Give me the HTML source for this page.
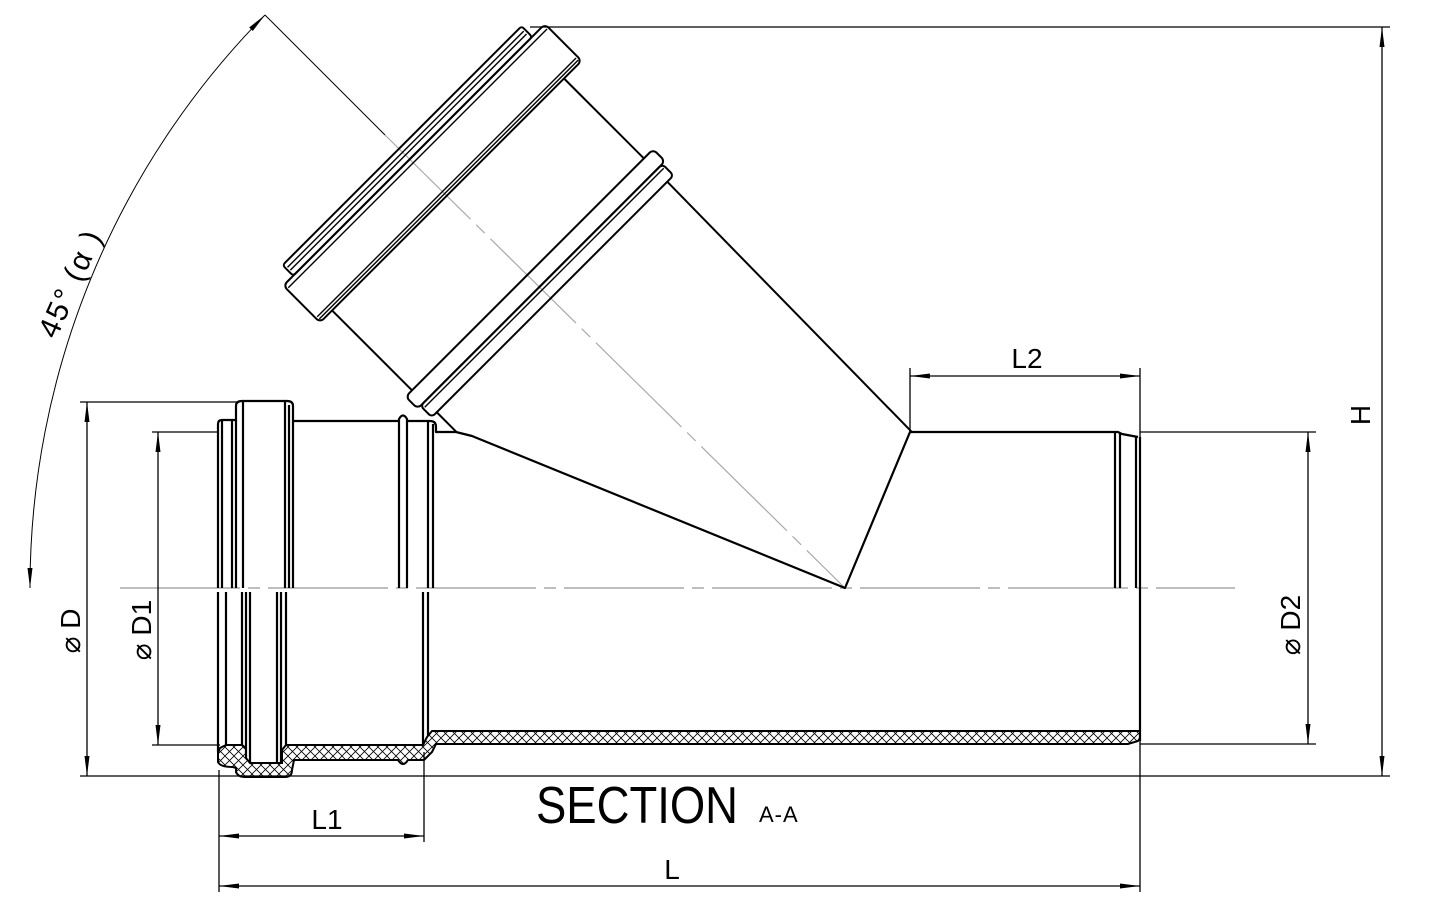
<!DOCTYPE html>
<html><head><meta charset="utf-8"><style>
html,body{margin:0;padding:0;background:#fff;}
svg{display:block;}
text{font-family:"Liberation Sans","DejaVu Sans",sans-serif;fill:#000;}
</style></head><body>
<svg width="1435" height="907" viewBox="0 0 1435 907" xmlns="http://www.w3.org/2000/svg">
<defs>
<pattern id="hx" width="9" height="9" patternUnits="userSpaceOnUse">
<path d="M0,0 L9,9 M9,0 L0,9" stroke="#000" stroke-width="0.8"/>
</pattern>
<marker id="ar" viewBox="0 0 20 6" refX="20" refY="3" markerWidth="20" markerHeight="6" markerUnits="userSpaceOnUse" orient="auto-start-reverse">
<path d="M0,0.5 L20,3 L0,5.5 Z" fill="#000"/>
</marker>
</defs>

<line x1="120" y1="588" x2="1235" y2="588" stroke="#aaa" stroke-width="1.5" stroke-dasharray="120,8,12,8"/>
<line x1="385" y1="135" x2="845" y2="588" stroke="#aaa" stroke-width="1.2" stroke-dasharray="120,8,12,8"/>
<line x1="265" y1="15" x2="385" y2="135" stroke="#000" stroke-width="1"/>

<path d="M265,15 A815,815 0 0 0 30,588" fill="none" stroke="#000" stroke-width="1" marker-start="url(#ar)" marker-end="url(#ar)"/>
<text transform="translate(56,340) rotate(-66)" font-size="30" letter-spacing="2">45° (α )</text>

<g stroke="#000" stroke-width="1.3" fill="none">
<line x1="80" y1="402" x2="237" y2="402"/>
<line x1="152" y1="432" x2="218" y2="432"/>
<line x1="152" y1="745" x2="220" y2="745"/>
<line x1="80" y1="776" x2="1390" y2="776"/>
<line x1="530" y1="27" x2="1390" y2="27"/>
<line x1="1140" y1="432" x2="1316" y2="432"/>
<line x1="1140" y1="744" x2="1316" y2="744"/>
<line x1="910" y1="368" x2="910" y2="432"/>
<line x1="1140" y1="368" x2="1140" y2="892"/>
<line x1="219" y1="770" x2="219" y2="892"/>
<line x1="424" y1="752" x2="424" y2="842"/>
<line x1="87" y1="402" x2="87" y2="776" marker-start="url(#ar)" marker-end="url(#ar)"/>
<line x1="158" y1="432" x2="158" y2="745" marker-start="url(#ar)" marker-end="url(#ar)"/>
<line x1="1308" y1="432" x2="1308" y2="744" marker-start="url(#ar)" marker-end="url(#ar)"/>
<line x1="1382" y1="27" x2="1382" y2="776" marker-start="url(#ar)" marker-end="url(#ar)"/>
<line x1="910" y1="376" x2="1140" y2="376" marker-start="url(#ar)" marker-end="url(#ar)"/>
<line x1="219" y1="836" x2="424" y2="836" marker-start="url(#ar)" marker-end="url(#ar)"/>
<line x1="219" y1="886" x2="1140" y2="886" marker-start="url(#ar)" marker-end="url(#ar)"/>
</g>

<text x="1027" y="368" font-size="28" text-anchor="middle">L2</text>
<text x="327" y="829" font-size="28" text-anchor="middle">L1</text>
<text x="672" y="879" font-size="28" text-anchor="middle">L</text>
<text transform="translate(80,631) rotate(-90)" font-size="28" text-anchor="middle">⌀ D</text>
<text transform="translate(151,630) rotate(-90)" font-size="28" text-anchor="middle">⌀ D1</text>
<text transform="translate(1300,625) rotate(-90)" font-size="28" text-anchor="middle">⌀ D2</text>
<text transform="translate(1370,415) rotate(-90)" font-size="28" text-anchor="middle">H</text>
<text x="536" y="823" font-size="52" textLength="202" lengthAdjust="spacingAndGlyphs">SECTION</text>
<text x="759" y="822" font-size="22" letter-spacing="1">A-A</text>

<path d="M218,752 L218,762 Q220,767 233,767 L236,768 L236,772 Q238,777 245,777 L285,777 Q292,777 292,770 L294,760 L398,760 Q403,768 408,760 L424,760 L432,752 L436,744 L1128,744 L1138,741 L1140,738 L1140,731 L432,731 L427,737 L423,745 L286,745 L282,750 L282,763 L250,763 L246,758 L246,748 L242,745 L226,745 L220,748 Z" fill="url(#hx)" stroke="#000" stroke-width="2"/>

<g stroke="#000" stroke-width="2.2" fill="none" stroke-linejoin="round">
<path d="M218,588 L218,424 Q218,420 222,420 L236,420 L236,406 Q236,401 242,401 L287,401 Q293,401 293,406 L293,421 L399,421 L399,419 Q403,412 407,419 L407,421 L430,421 Q436,421 436,427 L436,432 L456,432"/>
<line x1="222" y1="420" x2="222" y2="588"/>
<line x1="232" y1="420" x2="232" y2="588"/>
<line x1="236" y1="420" x2="236" y2="588"/>
<line x1="243" y1="401" x2="243" y2="588"/>
<line x1="285" y1="401" x2="285" y2="588"/>
<line x1="289" y1="405" x2="289" y2="588"/>
<line x1="293" y1="421" x2="293" y2="588"/>
<line x1="399" y1="421" x2="399" y2="588"/>
<line x1="407" y1="421" x2="407" y2="588"/>
<line x1="428" y1="421" x2="428" y2="588"/>
<line x1="433" y1="424" x2="433" y2="588"/>
<line x1="218" y1="592" x2="218" y2="752"/>
<line x1="226" y1="592" x2="226" y2="745"/>
<line x1="242" y1="592" x2="242" y2="745"/>
<line x1="246" y1="592" x2="246" y2="758"/>
<line x1="250" y1="592" x2="250" y2="763"/>
<line x1="277" y1="592" x2="277" y2="763"/>
<line x1="281" y1="592" x2="281" y2="763"/>
<line x1="286" y1="592" x2="286" y2="745"/>
<line x1="423" y1="592" x2="423" y2="745"/>
<line x1="428" y1="592" x2="428" y2="736"/>
<path d="M910,432 L1118,432 L1122,434 L1138,437"/>
<line x1="1115" y1="432" x2="1115" y2="588"/>
<line x1="1120" y1="433" x2="1120" y2="588"/>
<line x1="1136" y1="437" x2="1136" y2="588"/>
<line x1="1140" y1="437" x2="1140" y2="741"/>
<path d="M456,432 L472,436 L845,588 L910,432 L911,432"/>
</g>

<g transform="translate(403.5,148.5) rotate(45)" stroke="#000" stroke-width="2" fill="none" stroke-linejoin="round">
<rect x="-3" y="-170" width="15" height="338" rx="3"/>
<line x1="2" y1="-168" x2="2" y2="166" stroke-width="1.4"/>
<line x1="6" y1="-168" x2="6" y2="166" stroke-width="1.4"/>
<rect x="12" y="-188" width="52" height="370" rx="5"/>
<line x1="17" y1="-186" x2="17" y2="180" stroke-width="1.4"/>
<line x1="58" y1="-186" x2="58" y2="180" stroke-width="1.4"/>
<line x1="61" y1="-186" x2="61" y2="180" stroke-width="1.4"/>
<line x1="64" y1="-163" x2="177" y2="-163"/>
<line x1="64" y1="165" x2="177" y2="165"/>
<rect x="177" y="-176" width="17" height="350" rx="5"/>
<rect x="194" y="-172" width="16" height="342" rx="4"/>
<line x1="198" y1="-170" x2="198" y2="168" stroke-width="1.4"/>
<line x1="210" y1="-163" x2="560" y2="-159"/>
<line x1="210" y1="163" x2="238" y2="163"/>
</g>
</svg>
</body></html>
